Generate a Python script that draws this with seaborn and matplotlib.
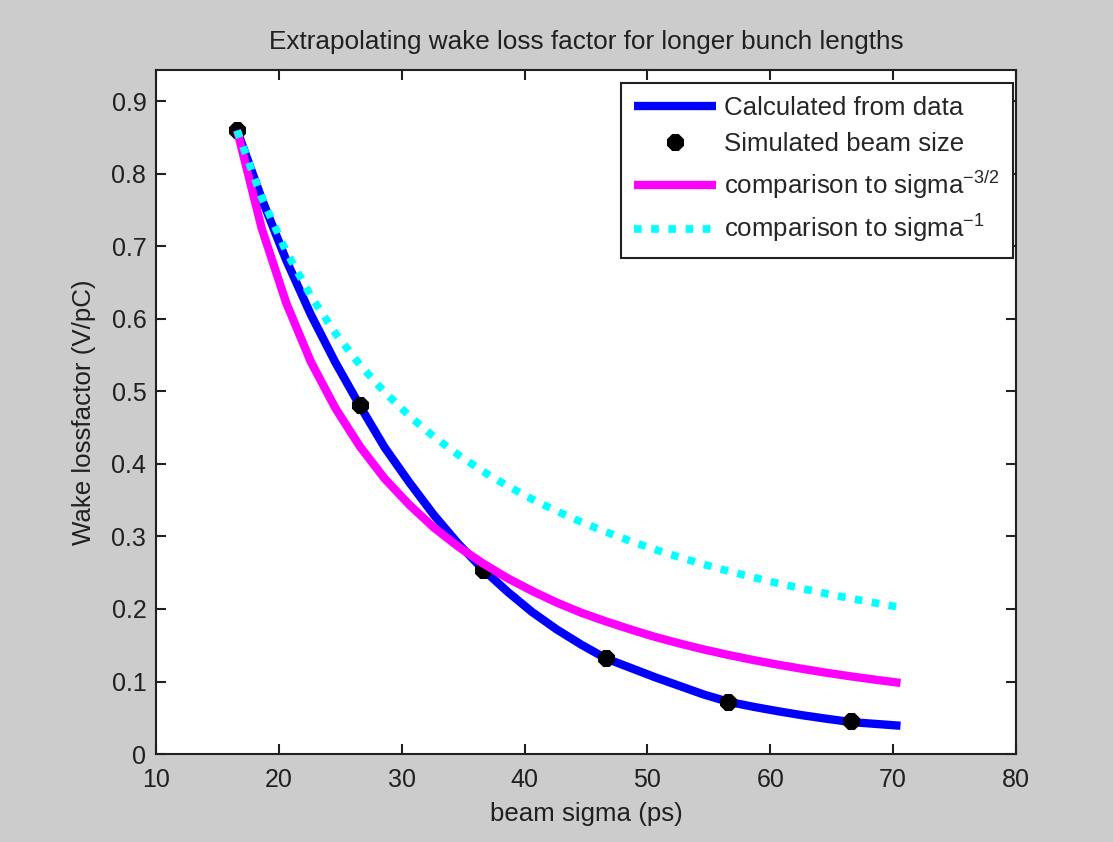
import matplotlib
matplotlib.use("Agg")
import matplotlib.pyplot as plt
import seaborn as sns
import pandas as pd

# ---- data ----
sigma_line = [16.6, 18.6, 20.6, 22.6, 24.6, 26.6, 28.6, 30.6, 32.6, 34.6, 36.6, 38.6, 40.6,
              42.6, 44.6, 46.6, 48.6, 50.6, 52.6, 54.6, 56.6, 58.6, 60.6, 62.6, 64.6, 66.6,
              68.6, 70.6]
calc_data = [0.860, 0.766, 0.681, 0.606, 0.540, 0.480, 0.423, 0.375, 0.330, 0.290, 0.255,
             0.224, 0.196, 0.172, 0.151, 0.132, 0.119, 0.106, 0.094, 0.082, 0.072, 0.0652,
             0.0591, 0.0535, 0.0486, 0.0440, 0.0415, 0.0390]
comp_32 = [0.860, 0.725, 0.622, 0.541, 0.477, 0.424, 0.380, 0.344, 0.3125, 0.286, 0.263,
           0.2426, 0.225, 0.209, 0.195, 0.183, 0.172, 0.1616, 0.1525, 0.1442, 0.1366,
           0.1297, 0.1233, 0.1175, 0.112, 0.107, 0.1024, 0.098]
comp_1 = [0.860, 0.7675, 0.693, 0.6317, 0.5803, 0.5367, 0.4992, 0.4665, 0.4379, 0.4126,
          0.390, 0.3698, 0.3516, 0.3351, 0.3201, 0.3064, 0.2937, 0.2821, 0.2714, 0.2615,
          0.2522, 0.2436, 0.2356, 0.2281, 0.221, 0.2144, 0.2081, 0.2022]
sigma_sim = [16.6, 26.6, 36.6, 46.6, 56.6, 66.6]
loss_sim = [0.860, 0.481, 0.254, 0.133, 0.072, 0.045]

x_ticks = [10, 20, 30, 40, 50, 60, 70, 80]
x_tick_labels = ["10", "20", "30", "40", "50", "60", "70", "80"]
y_ticks = [0, 0.1, 0.2, 0.3, 0.4, 0.5, 0.6, 0.7, 0.8, 0.9]
y_tick_labels = ["0", "0.1", "0.2", "0.3", "0.4", "0.5", "0.6", "0.7", "0.8", "0.9"]

labels = ["Calculated from data", "Simulated beam size",
          "comparison to sigma$^{-3/2}$", "comparison to sigma$^{-1}$"]

# ---- style ----
sns.set_theme(style="ticks")
plt.rcParams["font.family"] = ["Liberation Sans", "DejaVu Sans"]
plt.rcParams["mathtext.default"] = "regular"
plt.rcParams["axes.unicode_minus"] = False

TXT = "#202020"
fig = plt.figure(figsize=(11.13, 8.42), dpi=100, facecolor="#cccccc")
ax = fig.add_axes([0.1402, 0.1045, 0.7726, 0.8124])
ax.set_facecolor("white")

df_line = pd.DataFrame({"sigma": sigma_line, "calc": calc_data,
                        "c32": comp_32, "c1": comp_1})
df_sim = pd.DataFrame({"sigma": sigma_sim, "loss": loss_sim})

sns.lineplot(data=df_line, x="sigma", y="calc", ax=ax, color="#0000ff", lw=6,
             label=labels[0], sort=False, solid_capstyle="butt")
sns.lineplot(data=df_sim, x="sigma", y="loss", ax=ax, color="black", lw=0,
             marker="8", markersize=12, markeredgecolor="black",
             label=labels[1], sort=False)
sns.lineplot(data=df_line, x="sigma", y="c32", ax=ax, color="#ff00ff", lw=6,
             label=labels[2], sort=False, solid_capstyle="butt")
sns.lineplot(data=df_line, x="sigma", y="c1", ax=ax, color="#00ffff", lw=5.5,
             linestyle=(0, (1, 1.25)), label=labels[3], sort=False)

ax.set_xlim(10, 80)
ax.set_ylim(0, 0.9434)
ax.set_xticks(x_ticks)
ax.set_xticklabels(x_tick_labels)
ax.set_yticks(y_ticks)
ax.set_yticklabels(y_tick_labels)

for sp in ax.spines.values():
    sp.set_visible(True)
    sp.set_color(TXT)
    sp.set_linewidth(1.5)

ax.tick_params(direction="in", length=7, width=1.5, top=True, right=True,
               labelsize=18, colors=TXT, labelcolor=TXT)
ax.tick_params(axis="x", pad=10)
ax.tick_params(axis="y", pad=7)

ax.set_title("Extrapolating wake loss factor for longer bunch lengths",
             fontsize=18.8, pad=15, color=TXT)
ax.set_xlabel("beam sigma (ps)", fontsize=18.6, labelpad=7, color=TXT)
ax.set_ylabel("Wake lossfactor (V/pC)", fontsize=18.6, labelpad=11, color=TXT)

leg = ax.legend(loc="upper right", bbox_to_anchor=(0.9965, 0.981), fontsize=18.6,
                frameon=True, fancybox=False, shadow=False, framealpha=1,
                edgecolor=TXT, handlelength=3.2, handletextpad=0.3,
                labelspacing=0.48, borderpad=0.5, borderaxespad=0.0)
leg.get_frame().set_linewidth(1.5)

fig.savefig("out.png", dpi=100, facecolor=fig.get_facecolor())
